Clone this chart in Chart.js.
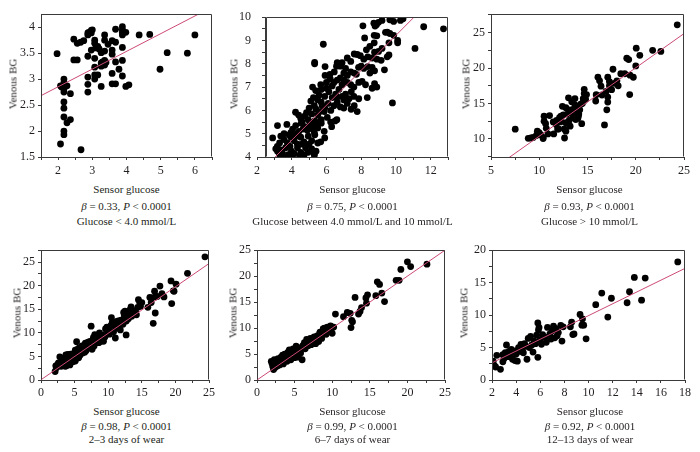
<!DOCTYPE html>
<html><head><meta charset="utf-8">
<script src="https://cdn.jsdelivr.net/npm/chart.js@4"></script>
<style>
body{margin:0;background:#fff;width:700px;height:452px;overflow:hidden;position:relative;font-family:'Liberation Serif','Times New Roman',serif;color:#231f20}
canvas{position:absolute}
.t{position:absolute;transform:translate(-50%,-50%);white-space:nowrap;font-size:11px;line-height:1;font-weight:normal}
.yt{position:absolute;transform:translate(-50%,-50%) rotate(-90deg);white-space:nowrap;font-size:11px;line-height:1;font-weight:normal}
</style></head><body>
<script>
// ---------- DATA ----------
const p1Points = [[1.97,3.49],[2.07,1.75],[2.07,2.87],[2.1,2.85],[2.17,3.0],[2.17,2.93],[2.17,2.87],[2.17,2.81],[2.17,2.75],[2.17,2.56],[2.17,2.44],[2.17,2.27],[2.17,2.0],[2.17,1.93],[2.26,2.87],[2.26,2.16],[2.36,2.72],[2.36,2.22],[2.67,1.64],[2.46,3.77],[2.46,3.37],[2.56,3.37],[2.56,3.69],[2.66,3.71],[2.75,3.74],[2.87,3.89],[2.87,3.85],[2.9,3.9],[2.97,3.94],[2.97,3.89],[3.0,3.95],[2.87,3.44],[2.87,3.04],[2.87,2.9],[2.87,2.75],[2.97,3.56],[3.07,3.75],[3.07,3.69],[3.07,3.4],[3.07,3.23],[3.07,3.08],[3.07,3.0],[3.1,3.6],[3.16,3.63],[3.16,3.08],[3.2,3.58],[3.26,2.86],[3.26,3.25],[3.26,3.31],[3.26,3.51],[3.3,3.33],[3.36,3.85],[3.36,3.75],[3.36,3.54],[3.36,3.36],[3.36,3.27],[3.4,3.32],[3.46,3.67],[3.58,3.74],[3.58,3.56],[3.58,3.48],[3.58,3.11],[3.58,2.91],[3.68,2.91],[3.68,3.96],[3.68,3.71],[3.68,3.33],[3.78,3.19],[3.88,4.01],[3.88,3.95],[3.88,3.9],[3.88,3.85],[3.88,3.61],[3.88,3.36],[3.88,3.06],[3.98,3.9],[3.98,2.86],[4.07,2.89],[4.37,3.85],[4.68,3.86],[4.98,3.19],[5.19,3.51],[5.78,3.5],[6.0,3.85]];

const p2Points = [[8.1,9.63],[8.73,9.74],[8.88,9.68],[9.0,9.78],[9.2,9.86],[9.65,9.89],[9.87,9.82],[10.26,9.86],[10.41,9.93],[11.6,9.59],[12.74,9.5],[9.5,9.36],[8.8,9.62],
[8.2,9.11],[8.75,9.22],[8.9,9.2],[9.4,9.35],[9.65,9.3],[9.87,9.22],[10.1,9.0],
[5.82,8.84],[8.5,8.75],[8.75,8.9],[9.6,8.9],[10.1,8.9],[11.1,8.66],[9.2,8.66],[9.0,8.53],[8.77,8.5],[8.3,8.6],
[7.77,8.4],[7.6,8.42],[7.95,8.35],[8.15,8.2],[8.38,8.3],[8.63,8.25],[8.9,8.2],[9.15,8.15],[9.5,8.3],[9.6,8.38],[7.2,8.25],[6.9,8.05],[6.62,8.05],[5.32,8.06],[5.32,8.0],[6.75,8.0],[7.4,8.1],
[5.92,7.88],[6.58,7.9],[6.8,7.9],[7.1,7.8],[7.4,7.65],[7.6,7.6],[7.85,7.85],[8.0,7.9],[8.15,7.8],[8.38,7.88],[8.5,7.6],[8.63,7.85],[8.77,7.7],[9.34,7.74],[6.2,7.55],[5.92,7.5],[7.2,7.5],[7.72,7.55],[6.45,7.65],[7.0,7.6],
[5.67,7.1],[6.22,7.35],[6.43,7.2],[6.62,7.3],[6.8,7.4],[7.0,7.3],[7.2,7.2],[7.4,7.1],[7.58,7.0],[7.86,7.2],[8.05,7.25],[8.25,7.1],[8.77,7.15],[8.9,7.0],[8.63,6.95],[5.2,7.0],[6.33,7.05],[6.0,7.2],[6.9,7.1],
[5.38,6.85],[5.57,6.65],[5.9,6.6],[6.14,6.8],[6.33,6.55],[6.53,6.7],[6.72,6.9],[6.9,6.6],[7.1,6.7],[7.3,6.5],[7.43,6.8],[7.58,6.6],[7.86,6.5],[8.35,6.55],[5.7,6.9],[6.0,6.95],[5.25,6.55],[6.6,6.55],
[5.1,6.4],[5.3,6.2],[5.5,6.45],[5.7,6.35],[5.9,6.1],[6.1,6.3],[6.25,6.0],[6.43,6.2],[6.62,6.35],[6.8,6.15],[7.0,6.1],[7.2,6.3],[7.42,6.05],[7.6,6.2],[7.77,5.95],[5.0,6.1],[7.0,6.45],[6.5,5.55],[5.4,6.05],[5.75,6.2],[9.8,6.32],
[4.22,5.92],[4.75,5.75],[4.95,5.6],[5.15,5.85],[5.33,5.55],[5.5,5.8],[5.7,5.6],[5.87,5.95],[6.05,5.7],[6.24,5.5],[4.52,5.65],[4.6,5.5],[5.62,5.95],[6.6,5.6],[6.3,5.3],[4.4,5.8],[5.05,5.5],[4.85,5.9],
[3.18,5.35],[3.72,5.4],[4.05,5.2],[4.23,5.35],[4.42,5.1],[4.55,5.45],[4.75,5.3],[4.9,5.15],[5.1,5.35],[5.3,5.05],[5.5,5.25],[5.7,5.45],[5.87,5.1],[3.95,5.05],[3.56,5.0],[4.3,5.0],[5.2,5.2],[4.65,5.2],[5.4,5.4],
[2.9,4.82],[3.37,4.9],[3.56,4.75],[3.75,4.6],[3.95,4.85],[4.14,4.7],[4.33,4.55],[4.52,4.85],[4.7,4.65],[4.95,4.9],[5.15,4.7],[5.33,4.95],[5.5,4.6],[5.67,4.65],[5.9,4.82],[3.3,4.6],[3.17,4.45],[3.85,4.95],[4.25,4.9],[4.6,4.55],[5.0,4.55],
[3.08,4.35],[3.18,4.25],[3.37,4.3],[3.47,4.15],[3.65,4.4],[3.8,4.1],[3.98,4.25],[4.13,4.15],[4.33,4.4],[4.52,4.2],[4.72,4.1],[4.95,4.2],[5.15,4.35],[5.3,4.15],[5.4,4.25],[3.56,4.05],[4.04,4.05],[5.3,4.08],[3.3,4.1],[3.9,4.45],[4.45,4.05],[4.8,4.4]];

const p3Points = [[7.51,11.37],[8.86,10.09],[9.14,10.13],[9.37,10.2],[9.7,10.5],[9.8,11.1],[9.98,10.9],[10.15,10.6],[10.4,10.2],[10.4,10.05],[10.5,13.2],[10.5,12.5],[10.66,12.15],[10.73,11.5],[10.9,10.7],[11.07,13.3],[11.45,12.4],[11.5,10.7],[11.75,12.05],[11.9,11.4],[12.1,13.0],[12.2,12.4],[12.25,13.2],[12.4,14.6],[12.5,13.4],[12.6,11.4],[12.62,10.13],[12.76,14.4],[12.76,12.3],[12.76,11.1],[13.03,15.8],[13.2,11.8],[13.27,13.8],[13.37,15.25],[13.54,13.2],[13.64,14.35],[13.7,15.7],[13.78,12.74],[13.88,13.65],[13.98,14.4],[14.05,13.2],[14.2,14.1],[14.4,12.15],[14.46,15.0],[14.56,15.7],[14.66,17.0],[14.66,16.4],[14.8,15.6],[14.9,16.26],[13.5,13.0],[13.9,13.9],[13.2,14.1],[14.3,14.9],[12.9,13.5],[14.0,12.9],[13.7,14.8],[12.2,12.8],[11.8,12.6],[13.1,12.6],[14.6,15.3],[14.1,13.5],[12.0,11.4],
[15.85,15.35],[15.9,16.25],[16.08,18.7],[16.25,18.2],[16.4,17.45],[16.5,16.2],[16.76,11.97],[16.93,16.7],[17.0,14.1],[17.1,15.2],[17.1,15.9],[17.1,18.7],[17.27,18.1],[17.27,17.5],[17.5,16.95],[17.64,19.83],[17.78,17.85],[18.05,18.2],[18.18,17.5],[18.45,19.2],[18.86,19.2],[19.07,21.4],[19.27,21.2],[19.37,16.26],[19.4,19.0],[19.75,18.7],[20.0,20.3],[20.05,22.8],[20.42,21.8],[21.75,22.5],[22.6,22.35],[24.3,26.1]];

const p4Points = [[2.1,1.8],[2.2,3.0],[2.3,2.6],[2.4,3.1],[2.5,3.3],[2.6,3.6],[2.7,3.0],[2.8,4.9],[2.9,3.8],[3.0,3.4],[3.0,2.9],[3.1,4.3],[3.2,3.7],[3.3,4.0],[3.3,3.1],[3.4,4.6],[3.5,3.2],[3.5,3.8],[3.6,4.5],[3.6,2.9],[3.7,5.3],[3.7,4.1],[3.8,3.0],[3.8,4.8],[3.9,4.2],[3.9,3.3],[4.0,3.6],[4.0,5.4],[4.1,5.0],[4.1,4.0],[4.2,4.6],[4.2,3.5],[4.3,3.2],[4.3,4.9],[4.4,5.5],[4.4,4.3],[4.5,4.1],[4.5,5.1],[4.6,5.2],[4.6,3.8],[4.7,4.8],[4.7,4.4],[4.8,3.9],[4.8,5.3],[4.9,5.6],[4.9,4.2],[5.0,4.5],[5.0,5.8],[5.1,6.3],[5.1,4.0],[5.2,4.9],[5.2,5.4],[5.3,8.1],[5.3,4.6],[5.4,5.5],[5.4,6.5],[5.5,6.0],[5.5,5.0],[5.6,4.7],[5.6,5.7],[5.7,6.8],[5.7,5.1],[5.8,5.3],[5.8,6.4],[5.9,6.2],[5.9,5.6],[6.0,7.0],[6.0,6.0],[6.1,7.2],[6.2,5.7],[6.3,6.8],[6.4,6.5],[6.5,7.5],[6.5,5.9],[6.6,7.8],[6.7,6.2],[6.8,7.3],[6.9,7.0],[7.0,8.0],[7.1,7.6],[7.2,6.8],[7.3,8.2],[7.4,7.7],[7.46,11.4],[7.5,6.8],[7.6,6.5],[7.7,8.5],[7.7,7.3],[7.8,9.0],[7.9,7.2],[8.0,9.6],[8.1,8.6],[8.2,8.3],[8.3,9.4],[8.4,9.0],[8.5,8.9],[8.6,7.9],[8.7,10.0],[8.8,9.6],[8.9,8.2],[9.0,8.5],[9.2,9.5],[9.3,8.2],[9.5,9.1],[9.6,10.8],[9.8,11.2],[9.9,10.5],[10.0,9.8],[10.2,9.7],[10.3,10.3],[10.4,11.5],[10.48,13.2],[10.6,12.2],[10.8,10.2],[11.06,8.9],[11.0,11.6],[11.2,11.0],[11.3,12.4],[11.5,12.5],[11.6,11.4],[11.8,10.6],[11.9,12.7],[12.0,11.9],[12.2,11.8],[12.3,14.3],[12.4,13.6],[12.5,14.6],[12.67,9.56],[12.7,12.5],[12.8,14.3],[13.0,13.0],[13.1,13.9],[13.2,14.8],[13.4,15.5],[13.5,13.5],[13.6,14.6],[13.8,14.0],[14.0,14.7],[14.1,14.3],[14.2,13.8],[14.4,15.4],[14.5,17.0],[14.7,16.3],[14.8,15.6],[15.0,16.4],[15.9,15.4],[16.2,17.5],[16.4,16.4],[16.5,17.4],[16.7,12.0],[16.9,18.8],[17.0,14.2],[17.0,17.6],[17.3,17.7],[17.7,19.9],[18.0,18.3],[18.3,17.6],[19.35,21.0],[19.45,16.2],[19.7,18.9],[19.8,18.8],[20.1,20.3],[21.8,22.6],[24.4,26.1]];

const p5Points = [[1.9,3.6],[2.0,3.2],[2.1,2.6],[2.2,2.0],[2.3,3.9],[2.4,2.4],[2.5,3.0],[2.6,3.6],[2.7,2.7],[2.8,4.1],[2.9,3.3],[3.0,2.9],[3.1,3.9],[3.2,4.4],[3.3,3.5],[3.4,4.8],[3.5,3.1],[3.6,4.2],[3.7,5.0],[3.8,3.8],[3.9,4.5],[4.0,3.6],[4.1,5.3],[4.2,4.1],[4.3,5.8],[4.4,4.7],[4.5,3.9],[4.6,5.4],[4.7,4.4],[4.8,6.0],[4.9,5.0],[5.0,4.3],[5.1,5.7],[5.2,6.5],[5.3,4.9],[5.4,5.5],[5.5,4.4],[5.6,6.2],[5.8,5.2],[6.0,3.9],[6.1,6.6],[6.3,7.2],[6.4,6.0],[6.6,7.8],[6.8,6.6],[6.9,7.4],[7.1,8.0],[7.2,6.8],[7.4,7.6],[7.6,8.3],[7.8,7.0],[8.0,8.5],[8.2,7.4],[8.17,8.25],[8.35,9.1],[8.4,9.2],[8.6,8.0],[8.7,8.7],[8.83,9.9],[8.8,9.8],[9.0,10.0],[9.13,9.5],[9.2,8.8],[9.35,10.2],[9.5,9.4],[9.78,10.4],[9.78,9.7],[10.0,9.0],[10.2,10.2],[10.43,12.7],[11.5,12.2],[12.0,13.0],[12.4,12.85],[12.5,10.1],[12.6,11.5],[12.7,11.2],[13.04,15.9],[13.5,12.7],[13.7,13.2],[13.9,13.95],[14.48,15.8],[14.56,14.8],[14.7,16.4],[15.8,16.25],[16.0,18.9],[16.3,18.4],[16.6,16.75],[16.96,15.1],[18.5,19.2],[18.9,19.2],[19.13,21.3],[20.0,22.77],[20.43,21.84],[22.6,22.3]];

const p6Points = [[2.05,2.4],[2.1,2.9],[2.2,2.2],[2.3,2.0],[2.4,3.8],[2.7,1.65],[2.9,2.8],[2.9,3.9],[3.0,3.3],[3.1,4.2],[3.2,5.4],[3.3,3.6],[3.4,4.4],[3.5,3.9],[3.6,4.7],[3.7,3.2],[3.8,4.5],[3.9,3.0],[4.0,4.0],[4.1,2.9],[4.2,5.0],[4.3,4.4],[4.4,5.5],[4.5,4.8],[4.6,4.2],[4.7,5.6],[4.8,5.2],[4.9,3.2],[5.0,6.4],[5.1,5.0],[5.2,6.7],[5.3,5.4],[5.4,4.3],[5.5,6.0],[5.6,5.6],[5.7,6.9],[5.8,3.5],[5.8,8.8],[5.85,7.7],[5.9,8.1],[6.0,6.2],[6.1,5.5],[6.2,7.0],[6.4,6.6],[6.5,5.8],[6.6,8.1],[6.8,7.1],[6.9,6.3],[7.0,7.6],[7.1,8.3],[7.2,6.5],[7.3,7.9],[7.4,6.8],[7.5,7.3],[7.7,8.4],[7.8,6.0],[7.9,8.2],[8.5,8.2],[8.6,8.9],[8.7,7.0],[8.8,7.1],[9.3,10.1],[9.5,9.4],[9.45,8.44],[9.6,8.44],[9.8,6.35],[10.6,11.6],[11.1,13.4],[11.6,9.7],[11.9,12.6],[13.2,11.9],[13.4,13.6],[13.8,15.8],[14.4,12.3],[14.7,15.7],[17.4,18.2]];

// regression fits: [slope, intercept]
const fits = [[0.341,2.17],[0.75,1.72],[0.965,0.74],[0.985,0.05],[1.0,0.0],[0.91,0.82]];

// axis ranges, tick positions (major + minor) and labelled step
const xRanges = [[1.5,6.5],[2,13],[5,25],[0,25],[0,25],[2,18]];
const yRanges = [[1.5,4.25],[4,10],[7.45,27.6],[0,27.5],[0,25],[0,20]];
const xTicks = [[1.5,2,2.5,3,3.5,4,4.5,5,5.5,6,6.5],[2,3,4,5,6,7,8,9,10,11,12,13],[5,7.5,10,12.5,15,17.5,20,22.5,25],[0,2.5,5,7.5,10,12.5,15,17.5,20,22.5,25],[0,2.5,5,7.5,10,12.5,15,17.5,20,22.5,25],[2,4,6,8,10,12,14,16,18]];
const yTicks = [[1.5,2,2.5,3,3.5,4],[4,4.5,5,5.5,6,6.5,7,7.5,8,8.5,9,9.5,10],[7.5,10,12.5,15,17.5,20,22.5,25,27.5],[0,2.5,5,7.5,10,12.5,15,17.5,20,22.5,25,27.5],[0,2.5,5,7.5,10,12.5,15,17.5,20,22.5,25],[0,2.5,5,7.5,10,12.5,15,17.5,20]];
const xLabelEvery = [1,2,5,5,5,2];
const yLabelEvery = [0.5,1,5,5,5,5];
const stats = ['0.33','0.75','0.93','0.98','0.99','0.92'];
const captions = ['Glucose < 4.0 mmol/L','Glucose between 4.0 mmol/L and 10 mmol/L','Glucose > 10 mmol/L','2\u20133 days of wear','6\u20137 days of wear','12\u201313 days of wear'];
const xTitle = 'Sensor glucose';
const yTitle = 'Venous BG';

// ---------- LAYOUT ----------
// plot box in page px: [xAxisLeft, top, right, bottom]
const boxes = [[41,10,212,157],[257,10,448,157],[491,10,688,157],[41,246,212,380],[257,246,448,380],[492,246,688,380]];
const yAxisAt = [null,2.5,null,null,null,null];
const yTitleX = [13,234,466,17,233,464];
const textRows = [[188.5,206,220.5],[188.5,206,220.5],[188.5,206,220.5],[410.5,425.5,438.5],[410.5,425.5,438.5],[410.5,425.5,438.5]];
const allPoints = [p1Points,p2Points,p3Points,p4Points,p5Points,p6Points];

const INK = '#231f20', AX = '#3a3a3a', LINE = '#cc4a74';
const isMult = (v, s) => Math.abs(v/s - Math.round(v/s)) < 1e-9;
const boxPlugin = {id:'box', afterDraw(chart, args, opts){
  const {ctx, chartArea:a, scales} = chart;
  const l = opts.at!=null ? scales.x.getPixelForValue(opts.at) : a.left;
  const L = Math.round(l)+0.5, T = Math.round(a.top)+0.5, R = Math.round(a.right)-0.5, B = Math.round(a.bottom)-0.5;
  ctx.save(); ctx.strokeStyle = AX; ctx.lineWidth = 1;
  ctx.beginPath(); ctx.moveTo(L,B); ctx.lineTo(L,T); ctx.lineTo(R,T); ctx.lineTo(R,B); ctx.stroke();
  ctx.restore();
}};

const ML = 40, MT = 6, MR = 6, MB = 24;
boxes.forEach((b, i) => {
  const [L,T,R,B] = b;
  const cv = document.createElement('canvas');
  const w = R - L + ML + MR, h = B - T + MT + MB;
  cv.width = w; cv.height = h;
  cv.style.left = (L - ML) + 'px'; cv.style.top = (T - MT) + 'px';
  cv.style.width = w + 'px'; cv.style.height = h + 'px';
  document.body.appendChild(cv);
  const pts = allPoints[i].map(p => ({x:p[0], y:p[1]}));
  const [m,c] = fits[i];
  const [x0,x1] = xRanges[i];
  const fitLine = [{x:x0, y:m*x0+c},{x:x1, y:m*x1+c}];
  const custom = yAxisAt[i] != null;
  const tickFont = {family:"'Liberation Serif', serif", size:12};
  const gridOpt = {display:true, drawOnChartArea:false, drawTicks:true, tickLength:3, color:AX};
  const scales = {
    x:{type:'linear', min:x0, max:x1,
      afterBuildTicks: s => { s.ticks = xTicks[i].map(v => ({value:v})); },
      afterFit: s => { s.height = MB; },
      grid:gridOpt, border:{display:true, color:AX},
      ticks:{color:INK, font:tickFont, padding: i<3 ? 4 : 3, maxRotation:0, autoSkip:false,
        callback: v => isMult(v, xLabelEvery[i]) ? String(v) : ''}
    },
    y:{type:'linear', min:yRanges[i][0], max:yRanges[i][1], position: custom ? {x: yAxisAt[i]} : 'left',
      afterBuildTicks: s => { s.ticks = yTicks[i].map(v => ({value:v})); },
      afterFit: s => { if (!custom) s.width = ML; },
      grid:gridOpt, border:{display:true, color:AX},
      ticks:{color:INK, font:tickFont, padding:3, autoSkip:false,
        callback: v => (!custom && isMult(v, yLabelEvery[i])) ? String(v) : ''}
    }
  };
  if (custom) {
    // label-only axis on the left edge of the plot for the panel whose y axis sits inside the x range
    scales.yl = {type:'linear', min:yRanges[i][0], max:yRanges[i][1], position:'left',
      afterBuildTicks: s => { s.ticks = yTicks[i].filter(v => isMult(v, yLabelEvery[i])).map(v => ({value:v})); },
      afterFit: s => { s.width = ML; },
      grid:{display:false, drawTicks:false}, border:{display:false},
      ticks:{color:INK, font:tickFont, padding:6, autoSkip:false, callback: v => String(v)}
    };
  }
  new Chart(cv, {
    type:'scatter',
    data:{datasets:[
      {data:pts, backgroundColor:'#000', borderWidth:0, pointRadius:3.4, order:2},
      {type:'line', data:fitLine, borderColor:LINE, borderWidth:1, pointRadius:0, fill:false, order:1}
    ]},
    options:{
      responsive:false, animation:false, events:[],
      layout:{padding:{left:0, top:MT, right:MR, bottom:0}},
      plugins:{legend:{display:false}, tooltip:{enabled:false}, box:{at: yAxisAt[i]}},
      scales
    },
    plugins:[boxPlugin]
  });
  // texts
  const cx = (L + R) / 2;
  const mk = (cls, html, x, y) => { const d = document.createElement('div'); d.className = cls; d.innerHTML = html; d.style.left = x + 'px'; d.style.top = y + 'px'; document.body.appendChild(d); };
  mk('t', xTitle, cx, textRows[i][0]);
  mk('t', '<i>\u03b2</i> = ' + stats[i] + ', <i>P</i> &lt; 0.0001', cx, textRows[i][1]);
  mk('t', captions[i].replace(/</g,'&lt;').replace(/>/g,'&gt;'), cx, textRows[i][2]);
  mk('yt', yTitle, yTitleX[i], (T + B) / 2);
});
</script>
</body></html>
